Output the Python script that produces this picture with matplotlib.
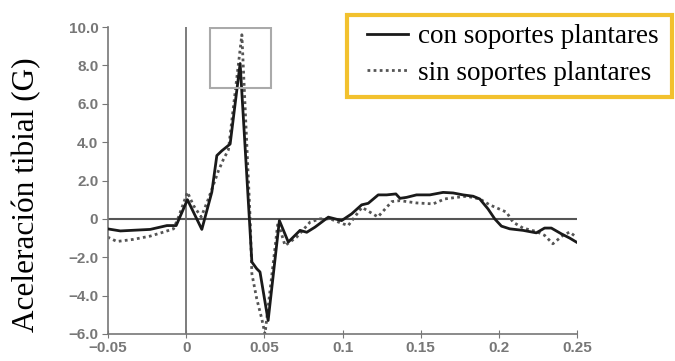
import matplotlib
matplotlib.use("Agg")
import matplotlib.pyplot as plt
from matplotlib.patches import Rectangle

# con soportes plantares (solid)
t_con = [-0.0504, -0.0421, -0.0230, -0.0123, -0.0064, 0.0008, 0.0100, 0.0164, 0.0196,
         0.0228, 0.0281, 0.0345, 0.0404, 0.0420, 0.0451, 0.0472, 0.0524, 0.0596,
         0.0653, 0.0728, 0.0771, 0.0824, 0.0909, 0.0994, 0.1058, 0.1122, 0.1164,
         0.1228, 0.1282, 0.1341, 0.1367, 0.1409, 0.1473, 0.1558, 0.1643, 0.1707,
         0.1771, 0.1835, 0.1877, 0.1930, 0.1973, 0.2016, 0.2069, 0.2154, 0.2239,
         0.2292, 0.2335, 0.2399, 0.2452, 0.2495]
a_con = [-0.52, -0.63, -0.55, -0.35, -0.35, 1.0, -0.55, 1.4, 3.3,
         3.55, 3.9, 8.1, 0.0, -2.25, -2.6, -2.77, -5.3, -0.09,
         -1.21, -0.6, -0.7, -0.43, 0.09, -0.09, 0.26, 0.73, 0.81,
         1.25, 1.25, 1.3, 1.07, 1.12, 1.25, 1.25, 1.38, 1.35,
         1.25, 1.18, 1.04, 0.52, 0.0, -0.38, -0.52, -0.6, -0.73,
         -0.48, -0.48, -0.78, -1.0, -1.21]

# sin soportes plantares (dotted)
t_sin = [-0.0503, -0.0443, -0.0338, -0.0230, -0.0145, -0.0081, -0.0049, 0.0008, 0.0047,
         0.0096, 0.0142, 0.0206, 0.0238, 0.0270, 0.0356, 0.0409, 0.0420, 0.0451,
         0.0483, 0.0504, 0.0587, 0.0632, 0.0707, 0.0792, 0.0856, 0.0920, 0.1004,
         0.1036, 0.1124, 0.1226, 0.1315, 0.1367, 0.1473, 0.1579, 0.1654, 0.1729,
         0.1792, 0.1877, 0.1941, 0.2048, 0.2090, 0.2154, 0.2239, 0.2292, 0.2345,
         0.2409, 0.2452, 0.2495]
a_sin = [-0.95, -1.18, -1.07, -0.9, -0.69, -0.52, 0.09, 1.39, 0.69,
         0.1, 1.04, 2.5, 3.1, 3.6, 9.6, 0.0, -2.86, -4.16,
         -5.2, -6.0, -0.17, -1.39, -0.95, -0.17, 0.0, 0.0, -0.26,
         -0.35, 0.6, 0.1, 0.9, 0.95, 0.83, 0.78, 1.04, 1.12,
         1.18, 1.04, 0.73, 0.35, -0.17, -0.48, -0.66, -0.86, -1.3,
         -0.86, -0.69, -0.95]

x_ticks = [-0.05, 0, 0.05, 0.1, 0.15, 0.2, 0.25]
x_labels = ["\u22120.05", "0", "0.05", "0.1", "0.15", "0.2", "0.25"]
y_ticks = [-6, -4, -2, 0, 2, 4, 6, 8, 10]
y_labels = ["\u22126.0", "\u22124.0", "\u22122.0", "0", "2.0", "4.0", "6.0", "8.0", "10.0"]

gray = "#777777"

fig = plt.figure(figsize=(6.75, 3.61), dpi=100)
ax = fig.add_axes([0.16, 0.075, 0.695, 0.85])

ax.axhline(0, color="#555555", lw=1.5, zorder=1)
ax.axvline(0, color="#666666", lw=1.2, zorder=1)

ax.plot(t_sin, a_sin, color="#555555", lw=2, linestyle=(0, (1, 1.2)), zorder=2,
        label="sin soportes plantares")
ax.plot(t_con, a_con, color="#1a1a1a", lw=2, zorder=3, label="con soportes plantares")

ax.add_patch(Rectangle((0.0153, 6.8), 0.039, 3.17, fill=False,
                       edgecolor="#aaaaaa", lw=1.5, zorder=4))

ax.set_xlim(-0.05, 0.25)
ax.set_ylim(-6, 10)
ax.spines["top"].set_visible(False)
ax.spines["right"].set_visible(False)
for s in ["left", "bottom"]:
    ax.spines[s].set_color(gray)
    ax.spines[s].set_linewidth(1.2)

ax.set_xticks(x_ticks)
ax.set_xticklabels(x_labels)
ax.set_yticks(y_ticks)
ax.set_yticklabels(y_labels)
ax.tick_params(axis="x", direction="inout", length=6, color=gray, labelcolor=gray,
               labelsize=11, pad=2)
ax.tick_params(axis="y", direction="out", length=4, color=gray, labelcolor=gray,
               labelsize=11, pad=3)
for lab in ax.get_xticklabels() + ax.get_yticklabels():
    lab.set_family("Liberation Sans")
    lab.set_fontweight("bold")

ax.set_ylabel("Aceleración tibial (G)", family="Liberation Serif", fontsize=22.5,
              color="black")
ax.yaxis.set_label_coords(-0.142, 0.453)

handles, labels = ax.get_legend_handles_labels()
leg = fig.legend(handles[::-1], labels[::-1], loc="upper left",
                 bbox_to_anchor=(367 / 675, 1 - 24 / 361), frameon=False,
                 prop={"family": "Liberation Serif", "size": 19.5},
                 handlelength=1.5, handletextpad=0.4, labelspacing=0.44,
                 borderpad=0, borderaxespad=0)

# yellow frame around the legend
fig.patches.append(Rectangle((347 / 675, 1 - 97 / 361), 325 / 675, 82 / 361,
                             transform=fig.transFigure, fill=False,
                             edgecolor="#f2c12e", lw=3))

fig.savefig("out.png", dpi=100)
